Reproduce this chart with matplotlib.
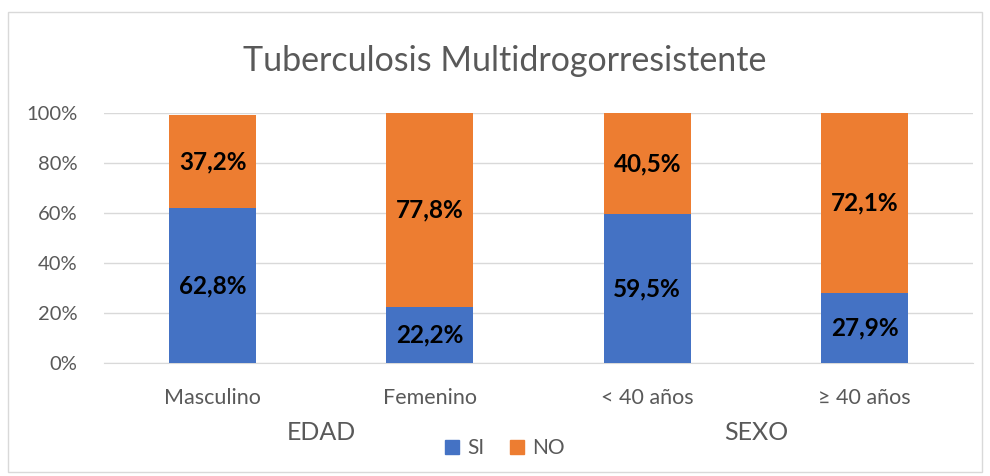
import matplotlib.pyplot as plt
from matplotlib.patches import Rectangle

categories = ['Masculino', 'Femenino', '< 40 años', '≥ 40 años']
groups = ['EDAD', 'SEXO']
si_values = [62.0, 22.2, 59.5, 27.9]
no_values = [37.2, 77.8, 40.5, 72.1]
si_labels = ['62,8%', '22,2%', '59,5%', '27,9%']
no_labels = ['37,2%', '77,8%', '40,5%', '72,1%']
y_ticks = [0, 20, 40, 60, 80, 100]

blue = '#4472C4'
orange = '#ED7D31'
gray_text = '#595959'

plt.rcParams['font.family'] = ['Lato', 'DejaVu Sans']

fig = plt.figure(figsize=(9.9, 4.76), dpi=100)
ax = fig.add_axes([0.105, 0.2374, 0.878, 0.5252])

x = list(range(len(categories)))
ax.bar(x, si_values, width=0.4, color=blue, zorder=3)
ax.bar(x, no_values, width=0.4, bottom=si_values, color=orange, zorder=3)

for i in x:
    ax.text(i, si_values[i] / 2, si_labels[i], ha='center', va='center',
            fontsize=17.5, fontweight='bold', color='black', zorder=4)
    ax.text(i, si_values[i] + no_values[i] / 2, no_labels[i], ha='center', va='center',
            fontsize=17.5, fontweight='bold', color='black', zorder=4)

ax.set_xlim(-0.5, len(categories) - 0.5)
ax.set_ylim(0, 100)
ax.set_yticks(y_ticks)
ax.set_yticklabels([f'{t}%' for t in y_ticks], fontsize=14.5, color=gray_text)
ax.set_xticks(x)
ax.set_xticklabels(categories, fontsize=15.5, color=gray_text)
ax.tick_params(length=0)
ax.tick_params(axis='x', pad=18)
ax.tick_params(axis='y', pad=19)
ax.grid(axis='y', color='#D9D9D9', linewidth=1, zorder=0)
for side in ['left', 'right', 'top']:
    ax.spines[side].set_visible(False)
ax.spines['bottom'].set_color('#D9D9D9')

# group labels under pairs of categories
ax.text(0.5, -0.28, groups[0], transform=ax.get_xaxis_transform(), ha='center', va='center',
        fontsize=18, color=gray_text)
ax.text(2.5, -0.28, groups[1], transform=ax.get_xaxis_transform(), ha='center', va='center',
        fontsize=18, color=gray_text)

fig.text(0.51, 0.872, 'Tuberculosis Multidrogorresistente', ha='center', va='center',
         fontsize=24.5, color=gray_text)

handles = [Rectangle((0, 0), 1, 1, color=blue), Rectangle((0, 0), 1, 1, color=orange)]
fig.legend(handles, ['SI', 'NO'], loc='center', bbox_to_anchor=(0.51, 0.058), ncol=2,
           frameon=False, fontsize=15, handlelength=0.7, handleheight=0.7,
           handletextpad=0.4, columnspacing=1.2, labelcolor=gray_text)

fig.patches.append(Rectangle((8 / 990, 4 / 476), 974 / 990, 460 / 476, transform=fig.transFigure,
                             fill=False, edgecolor='#D9D9D9', linewidth=1))

fig.savefig('out.png', dpi=100)
